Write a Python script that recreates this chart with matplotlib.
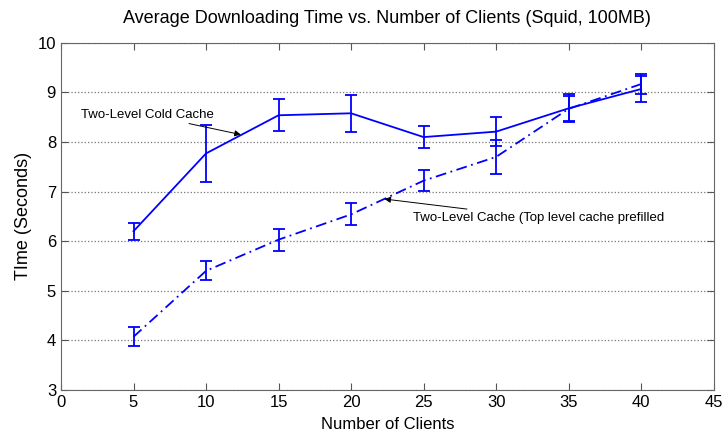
import matplotlib
matplotlib.use('Agg')
import matplotlib.pyplot as plt
import numpy as np

clients = [5, 10, 15, 20, 25, 30, 35, 40]

# Two-Level Cold Cache
cold_time = [6.2, 7.77, 8.54, 8.58, 8.10, 8.21, 8.68, 9.07]
cold_err = [0.17, 0.58, 0.32, 0.37, 0.23, 0.29, 0.28, 0.27]

# Two-Level Cache (top level cache prefilled)
pre_time = [4.07, 5.40, 6.03, 6.54, 7.22, 7.70, 8.67, 9.17]
pre_err = [0.19, 0.19, 0.22, 0.22, 0.21, 0.34, 0.25, 0.20]

plt.rcParams['font.family'] = ['Liberation Sans', 'DejaVu Sans']

fig = plt.figure(figsize=(7.26, 4.38), dpi=100)
ax = fig.add_axes([0.084, 0.11, 0.899, 0.792])

blue = (0, 0, 1)
ax.errorbar(clients, cold_time, yerr=cold_err, color=blue, linestyle='-',
            linewidth=1.3, elinewidth=1.3, capsize=4, capthick=1.3)
ax.errorbar(clients, pre_time, yerr=pre_err, color=blue,
            linestyle=(0, (6, 2.5, 1, 2.5)),
            linewidth=1.3, elinewidth=1.3, capsize=4, capthick=1.3)

ax.set_xlim(0, 45)
ax.set_ylim(3, 10)
ax.set_xticks(range(0, 46, 5))
ax.set_yticks(range(3, 11))
ax.tick_params(direction='in', top=True, right=True, labelsize=12, length=5,
               color='#555555')
for s in ax.spines.values():
    s.set_color('#666666')
ax.yaxis.grid(True, linestyle=':', color='#777777', linewidth=0.9)

ax.set_title('Average Downloading Time vs. Number of Clients (Squid, 100MB)',
             fontsize=13, pad=14)
ax.set_xlabel('Number of Clients', fontsize=12, labelpad=5)
ax.set_ylabel('TIme (Seconds)', fontsize=13)

ax.annotate('Two-Level Cold Cache', xy=(12.4, 8.15), xytext=(1.4, 8.55),
            fontsize=9.5, color='black', va='center',
            arrowprops=dict(arrowstyle='-|>', color='black', lw=0.7,
                            shrinkA=0, shrinkB=0, mutation_scale=9))
ax.annotate('Two-Level Cache (Top level cache prefilled', xy=(22.3, 6.85),
            xytext=(24.3, 6.47), fontsize=9.5, color='black', va='center',
            arrowprops=dict(arrowstyle='-|>', color='black', lw=0.7,
                            shrinkA=0, shrinkB=0, mutation_scale=9))

fig.savefig('out.png', dpi=100)
